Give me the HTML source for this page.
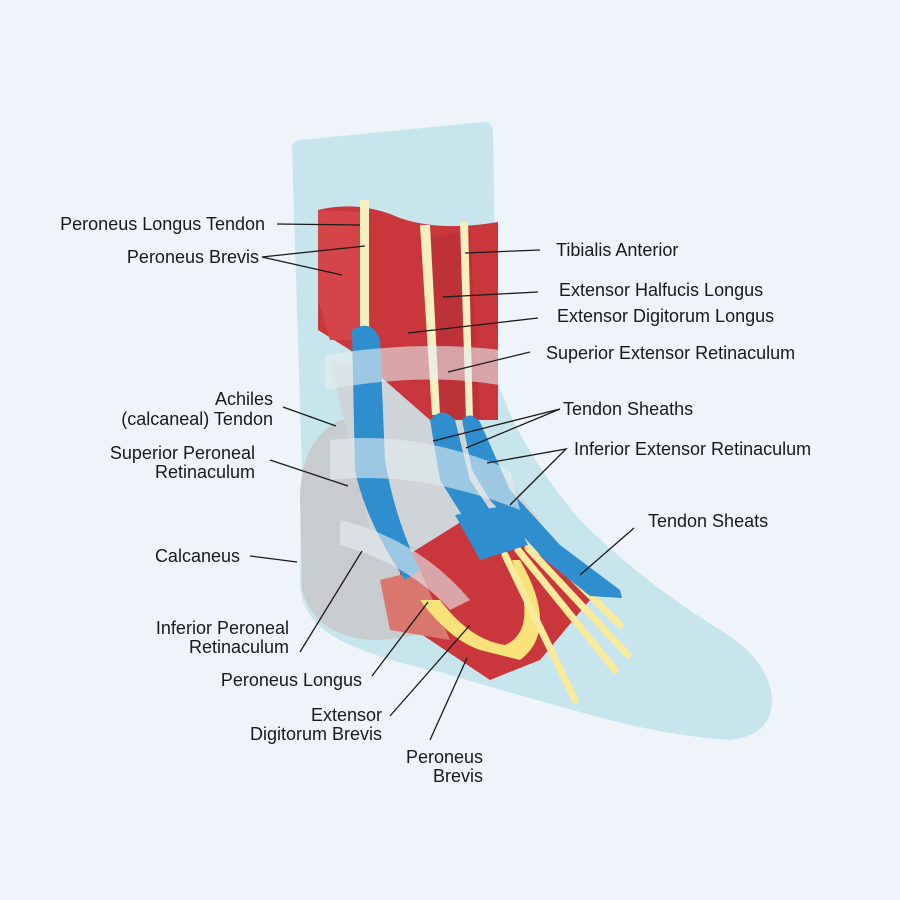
<!DOCTYPE html>
<html><head><meta charset="utf-8"><style>
body{margin:0;background:#eef4f9}
svg{display:block}
text{font-family:"Liberation Sans",sans-serif;font-size:18px;fill:#1a1a1a}
</style></head><body>
<svg width="900" height="900" viewBox="0 0 900 900">
<rect width="900" height="900" fill="#eef4f9"/>
<path d="M292 148 Q292 142 300 140 L484 122 Q492 122 493 132 L497 380 Q520 450 580 520 Q640 580 720 630 Q770 660 772 700 Q772 735 730 740 Q660 735 580 712 Q500 690 440 672 Q380 660 340 640 Q300 620 300 580 L302 470 Z" fill="#c6e5ec"/>
<path d="M300 500 Q300 440 340 420 L430 420 L470 500 L470 610 Q430 640 370 640 Q315 635 302 590 Z" fill="#c9ccce"/>
<path d="M330 360 L440 380 L500 470 L540 520 L450 560 L370 530 Z" fill="#cfd4d8"/>
<path d="M318 210 Q360 200 400 218 Q440 232 498 222 L498 420 L430 420 L350 350 L318 330 Z" fill="#c9373d"/>
<path d="M318 210 L360 212 L372 340 L330 340 L318 300 Z" fill="#d44448"/>
<path d="M420 240 L470 230 L480 420 L435 420 Z" fill="#b52f36" opacity=".6"/>
<rect x="360" y="200" width="9" height="140" fill="#f4f0bf"/>
<path d="M420 225 L430 225 L440 415 L432 415 Z" fill="#f4f0bf"/>
<path d="M460 222 L468 222 L473 420 L466 420 Z" fill="#f4f0bf"/>
<path d="M400 560 L480 510 L560 570 L590 600 L540 660 L490 680 L400 620 Z" fill="#c9373d"/>
<path d="M380 580 L420 570 L450 640 L390 630 Z" fill="#d9766e"/>
<path d="M420 600 Q450 640 480 650 L520 660 Q560 630 520 560 L512 560 Q540 630 505 645 Q470 640 440 600 Z" fill="#f7e37a"/>
<g stroke="#f9eb9c" stroke-width="7" stroke-linecap="round">
<line x1="505" y1="555" x2="575" y2="700"/>
<line x1="518" y1="550" x2="615" y2="670"/>
<line x1="528" y1="548" x2="628" y2="655"/>
<line x1="540" y1="545" x2="620" y2="625"/>
</g>
<g fill="#2f8fce">
<path d="M352 330 Q372 318 380 340 L385 460 Q395 520 420 570 L405 580 Q365 520 355 470 Z"/>
<path d="M430 420 Q442 405 455 420 L470 480 L490 510 L465 520 L440 480 Z"/>
<path d="M462 420 Q470 410 480 422 L510 490 L560 545 L620 590 L622 598 L590 596 L545 560 L490 500 L472 470 Z"/>
<path d="M455 515 L508 505 L528 545 L480 560 Z"/>
</g>
<g fill="#e6eef2" opacity=".6">
<path d="M325 355 Q420 340 500 350 L500 385 Q420 372 325 390 Z"/>
<path d="M330 440 Q420 430 510 470 L520 510 Q420 470 330 480 Z"/>
<path d="M340 520 Q420 540 470 600 L450 610 Q410 565 340 545 Z"/>
</g>
<g stroke="#1a1a1a" stroke-width="1.3" fill="none">
<line x1="277" y1="224" x2="360" y2="225"/>
<polyline points="365,246 262,257 342,275"/>
<line x1="465" y1="253" x2="540" y2="250"/>
<line x1="443" y1="297" x2="538" y2="292"/>
<line x1="408" y1="333" x2="538" y2="318"/>
<line x1="448" y1="372" x2="530" y2="352"/>
<polyline points="433,441 560,409 466,448"/>
<polyline points="487,463 566,449 510,505"/>
<line x1="580" y1="575" x2="634" y2="528"/>
<line x1="283" y1="407" x2="336" y2="426"/>
<line x1="270" y1="460" x2="348" y2="486"/>
<line x1="250" y1="556" x2="297" y2="562"/>
<line x1="300" y1="652" x2="362" y2="551"/>
<line x1="372" y1="676" x2="428" y2="602"/>
<line x1="390" y1="716" x2="470" y2="625"/>
<line x1="430" y1="740" x2="467" y2="658"/>
</g>
<text x="265" y="230" text-anchor="end">Peroneus Longus Tendon</text>
<text x="259" y="263" text-anchor="end">Peroneus Brevis</text>
<text x="556" y="256">Tibialis Anterior</text>
<text x="559" y="296">Extensor Halfucis Longus</text>
<text x="557" y="322">Extensor Digitorum Longus</text>
<text x="546" y="359">Superior Extensor Retinaculum</text>
<text x="563" y="415">Tendon Sheaths</text>
<text x="574" y="455">Inferior Extensor Retinaculum</text>
<text x="648" y="527">Tendon Sheats</text>
<text x="273" y="405" text-anchor="end">Achiles</text>
<text x="273" y="425" text-anchor="end">(calcaneal) Tendon</text>
<text x="255" y="459" text-anchor="end">Superior Peroneal</text>
<text x="255" y="478" text-anchor="end">Retinaculum</text>
<text x="240" y="562" text-anchor="end">Calcaneus</text>
<text x="289" y="634" text-anchor="end">Inferior Peroneal</text>
<text x="289" y="653" text-anchor="end">Retinaculum</text>
<text x="362" y="686" text-anchor="end">Peroneus Longus</text>
<text x="382" y="721" text-anchor="end">Extensor</text>
<text x="382" y="740" text-anchor="end">Digitorum Brevis</text>
<text x="483" y="763" text-anchor="end">Peroneus</text>
<text x="483" y="782" text-anchor="end">Brevis</text>
</svg>
</body></html>
